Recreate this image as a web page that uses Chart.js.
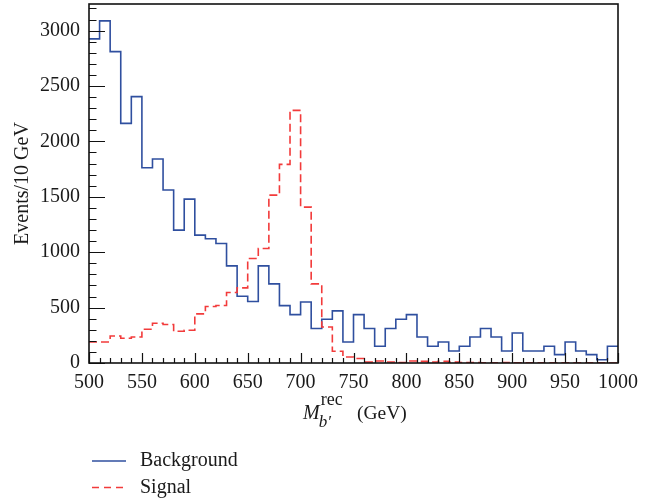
<!DOCTYPE html>
<html>
<head>
<meta charset="utf-8">
<script src="https://cdn.jsdelivr.net/npm/chart.js@4/dist/chart.umd.min.js"></script>
<style>
  html, body { margin: 0; padding: 0; background: #fff; }
  canvas { display: block; }
</style>
</head>
<body>
<canvas id="c" width="664" height="502"></canvas>
<script>
// Lower edges of the 10 GeV mass bins
const binLow = [500, 510, 520, 530, 540, 550, 560, 570, 580, 590,
                600, 610, 620, 630, 640, 650, 660, 670, 680, 690,
                700, 710, 720, 730, 740, 750, 760, 770, 780, 790,
                800, 810, 820, 830, 840, 850, 860, 870, 880, 890,
                900, 910, 920, 930, 940, 950, 960, 970, 980, 990];
const binHighEdge = 1000;

// Events per bin
const background = [2925, 3088, 2810, 2163, 2404, 1762, 1841, 1561, 1199, 1479,
                    1154, 1121, 1079,  877,  603,  555,  877,  714,  518,  437,
                     551,  311,  395,  470,  190,  437,  311,  151,  311,  395,
                     437,  235,  151,  190,  108,  151,  235,  311,  235,  108,
                     271,  108,  108,  151,   76,  190,  108,   76,   30,  151];
const signal     = [ 190,  190,  244,  223,  235,  304,  359,  347,  286,  295,
                     443,  510,  519,  636,  678,  943, 1034, 1515, 1793, 2280,
                    1407,  714,  325,  106,   54,   40,    9,   18,    9,    5,
                      18,   15,    9,   15,    8,    4,    3,    2,    2,    3,
                       2,    1,    2,    1,    1,    2,    1,    1,    1,    0];

// Axis tick labels
const xTickValues = [500, 550, 600, 650, 700, 750, 800, 850, 900, 950, 1000];
const yTickValues = [0, 500, 1000, 1500, 2000, 2500, 3000];
const yAxisMax = 3240;

const BLUE = '#2f4f9f';
const RED = '#f23b3b';
const SERIF = '"Liberation Serif", "DejaVu Serif", serif';

// Histogram outline: each bin holds its value up to the next edge
function histogramPoints(values) {
  const pts = values.map((v, i) => ({ x: binLow[i], y: v }));
  pts.push({ x: binHighEdge, y: values[values.length - 1] });
  return pts;
}

// Frame, inward tick marks, axis titles and the legend block
const decorations = {
  id: 'decorations',
  afterDatasetsDraw(chart) {
    const { ctx, chartArea: a, scales: { x, y } } = chart;
    ctx.save();
    ctx.strokeStyle = '#111';
    ctx.lineWidth = 1.2;
    ctx.beginPath();
    for (let v = 0; v <= yAxisMax; v += 100) {
      const py = Math.round(y.getPixelForValue(v)) + 0.5;
      const len = v % 500 === 0 ? 16 : 7.5;
      ctx.moveTo(a.left, py);
      ctx.lineTo(a.left + len, py);
    }
    for (let v = 500; v <= 1000; v += 10) {
      const px = Math.round(x.getPixelForValue(v)) + 0.5;
      const len = v % 50 === 0 ? 10 : 5;
      ctx.moveTo(px, a.bottom);
      ctx.lineTo(px, a.bottom - len);
    }
    ctx.stroke();
    ctx.lineWidth = 1.6;
    ctx.strokeRect(a.left, a.top, a.right - a.left, a.bottom - a.top);
    ctx.restore();
  },
  afterDraw(chart) {
    const { ctx, chartArea: a } = chart;
    ctx.save();
    ctx.fillStyle = '#1a1a1a';

    // y-axis title
    ctx.save();
    ctx.translate(27.5, (a.top + a.bottom) / 2);
    ctx.rotate(-Math.PI / 2);
    ctx.font = '20px ' + SERIF;
    ctx.textAlign = 'center';
    ctx.textBaseline = 'alphabetic';
    ctx.fillText('Events/10 GeV', 0, 0);
    ctx.restore();

    // x-axis title: M with subscript b' and superscript rec, then the unit
    const base = 419;
    const center = (a.left + a.right) / 2;
    const mainFont = 'italic 20px ' + SERIF;
    const supFont = '18px ' + SERIF;
    const subFont = 'italic 17px ' + SERIF;
    const unitFont = '19.5px ' + SERIF;
    ctx.textBaseline = 'alphabetic';
    ctx.textAlign = 'left';
    const mx = center - 50.5;
    ctx.font = mainFont;
    ctx.fillText('M', mx, base);
    const sx = mx + ctx.measureText('M').width + 1;
    ctx.font = supFont; ctx.fillText('rec', sx, base - 14);
    ctx.font = subFont; ctx.fillText('b\u2032', sx - 2, base + 8);
    ctx.font = unitFont; ctx.fillText('(GeV)', center + 3.5, base);

    // legend
    const items = [
      { label: 'Background', color: BLUE, dash: [], y: 461 },
      { label: 'Signal', color: RED, dash: [7, 5], y: 487.5 }
    ];
    ctx.font = '20px ' + SERIF;
    ctx.textBaseline = 'middle';
    items.forEach(it => {
      ctx.beginPath();
      ctx.setLineDash(it.dash);
      ctx.strokeStyle = it.color;
      ctx.lineWidth = 1.3;
      ctx.moveTo(92, it.y);
      ctx.lineTo(126, it.y);
      ctx.stroke();
      ctx.setLineDash([]);
      ctx.fillStyle = '#1a1a1a';
      ctx.fillText(it.label, 140, it.y);
    });
    ctx.restore();
  }
};

new Chart(document.getElementById('c'), {
  type: 'line',
  data: {
    datasets: [
      {
        label: 'Signal',
        data: histogramPoints(signal),
        borderColor: RED,
        borderWidth: 1.6,
        borderDash: [8, 4],
        stepped: true,
        pointRadius: 0,
        fill: false
      },
      {
        label: 'Background',
        data: histogramPoints(background),
        borderColor: BLUE,
        borderWidth: 1.6,
        stepped: true,
        pointRadius: 0,
        fill: false
      }
    ]
  },
  options: {
    responsive: false,
    animation: false,
    devicePixelRatio: 1,
    layout: { padding: { top: 4, right: 46, left: 0, bottom: 0 } },
    plugins: { legend: { display: false }, tooltip: { enabled: false } },
    scales: {
      x: {
        type: 'linear',
        min: 500,
        max: 1000,
        grid: { display: false, drawTicks: false },
        border: { display: false },
        afterBuildTicks: s => { s.ticks = xTickValues.map(v => ({ value: v })); },
        afterFit: s => { s.height = 139; s.paddingLeft = 0; s.paddingRight = 0; },
        ticks: {
          autoSkip: false,
          maxRotation: 0,
          padding: 8,
          color: '#1a1a1a',
          font: { family: SERIF, size: 20 },
          callback: v => String(v)
        }
      },
      y: {
        type: 'linear',
        min: 0,
        max: yAxisMax,
        grid: { display: false, drawTicks: false },
        border: { display: false },
        afterBuildTicks: s => { s.ticks = yTickValues.map(v => ({ value: v })); },
        afterFit: s => { s.width = 89; s.paddingTop = 0; s.paddingBottom = 0; },
        ticks: {
          autoSkip: false,
          padding: 9,
          color: '#1a1a1a',
          font: { family: SERIF, size: 20 },
          callback: v => String(v)
        }
      }
    }
  },
  plugins: [decorations]
});
</script>
</body>
</html>
